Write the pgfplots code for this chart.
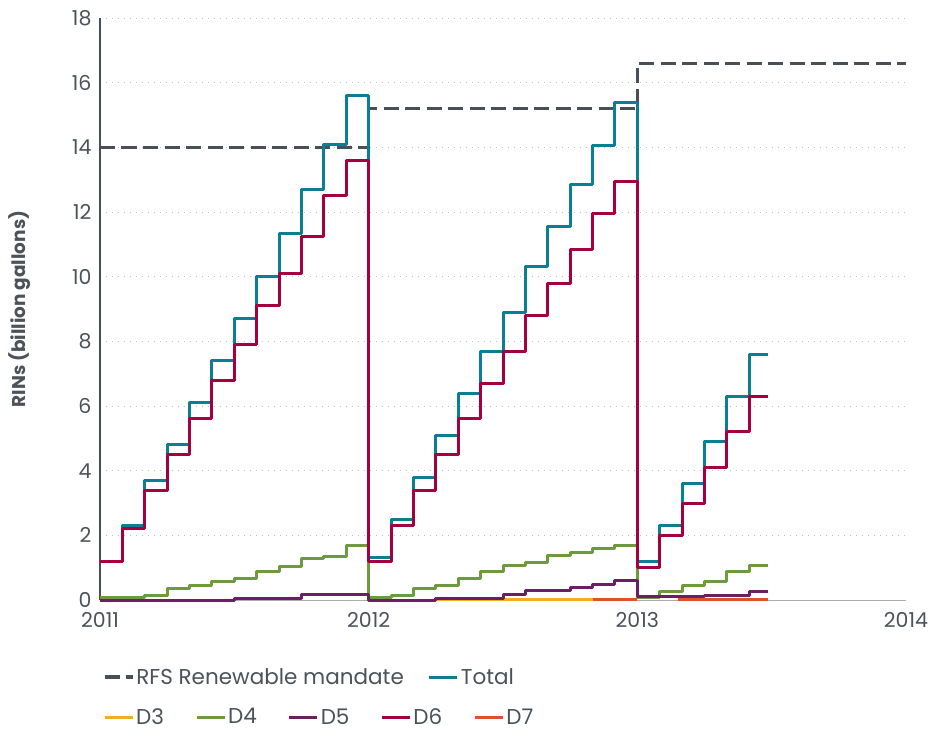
\documentclass[border=0pt]{standalone}
\usepackage{fontspec}
\setmainfont{Poppins}
\usepackage{pgfplots}
\pgfplotsset{compat=1.18}

\definecolor{rfs}{HTML}{474F58}
\definecolor{total}{HTML}{0B7E93}
\definecolor{dthree}{HTML}{F2AE1C}
\definecolor{dfour}{HTML}{6C9A3C}
\definecolor{dfive}{HTML}{6A1F63}
\definecolor{dsix}{HTML}{A4003F}
\definecolor{dseven}{HTML}{E0502A}
\definecolor{txt}{HTML}{4B525A}

\pgfplotsset{
  rinbase/.style={
    scale only axis, width=806pt, height=582pt,
    xmin=0, xmax=36, ymin=0, ymax=18,
    at={(0,0)}, anchor=south west,
  },
  leg/.style={
    legend cell align=left,
    legend style={draw=none, fill=none, text=txt,
      font=\fontsize{21.5}{23}\selectfont,
      at={(axis description cs:0,0)}, anchor=west,
      legend columns=-1},
    legend image code/.code={\draw[##1] (0pt,0pt) -- (28pt,0pt);},
  },
  ln/.style={const plot, line width=3pt, line join=round},
}

\begin{document}
\begin{tikzpicture}
\begin{axis}[rinbase, leg,
  legend style={yshift=-77pt,
    /tikz/every even column/.append style={column sep=22pt}},
  clip=false,
  axis x line*=bottom, axis y line*=left,
  x axis line style={draw=gray!65, line width=1pt},
  y axis line style={draw=rfs, line width=1.3pt},
  major tick length=0pt,
  xtick={0,12,24,36}, xticklabels={2011,2012,2013,2014},
  ytick={0,2,...,18}, yticklabels={0,2,4,6,8,10,12,14,16,18},
  tick label style={font=\fontsize{20.5}{22}\selectfont, text=txt},
  yticklabel style={xshift=-5pt},
  xticklabel style={yshift=-9pt},
  ymajorgrids,
  grid style={draw=gray!50, line width=1pt, dash pattern=on 1.2pt off 4.8pt},
  ylabel={\bfseries RINs (billion gallons)},
  ylabel style={font=\fontsize{18.5}{20}\selectfont, text=txt,
    at={(axis description cs:-0.0993,0.5)}, anchor=center},
]
% RFS renewable mandate
\addplot[ln, color=rfs, line width=3.2pt, dash pattern=on 15pt off 6.5pt]
  coordinates {(0,14) (12,15.2) (24,16.6) (36,16.6)};
\addlegendentry{RFS Renewable mandate}

% Total
\addplot[ln, color=total] coordinates {
  (0,1.2) (1,2.3) (2,3.7) (3,4.8) (4,6.1) (5,7.4) (6,8.7) (7,10.0)
  (8,11.35) (9,12.7) (10,14.1) (11,15.6)
  (12,1.3) (13,2.5) (14,3.8) (15,5.1) (16,6.4) (17,7.7) (18,8.9) (19,10.3)
  (20,11.55) (21,12.85) (22,14.05) (23,15.4)
  (24,1.2) (25,2.3) (26,3.6) (27,4.9) (28,6.3) (29,7.6) (29.85,7.6)};
\addlegendentry{Total}

% D3
\addplot[ln, color=dthree, forget plot] coordinates {(15,0.02) (24,0.02)};

% D4
\addplot[ln, color=dfour, forget plot] coordinates {
  (0,0.08) (1,0.08) (2,0.15) (3,0.36) (4,0.46) (5,0.57) (6,0.67) (7,0.88)
  (8,1.05) (9,1.27) (10,1.36) (11,1.68)
  (12,0.08) (13,0.15) (14,0.36) (15,0.46) (16,0.67) (17,0.88) (18,1.07)
  (19,1.17) (20,1.38) (21,1.47) (22,1.58) (23,1.68)
  (24,0.08) (25,0.26) (26,0.46) (27,0.57) (28,0.88) (29,1.06) (29.85,1.06)};

% D5
\addplot[ln, color=dfive, forget plot] coordinates {
  (0,0) (1,0) (2,0) (3,0) (4,0) (5,0) (6,0.06) (7,0.06) (8,0.06)
  (9,0.18) (10,0.18) (11,0.18)
  (12,0) (13,0) (14,0) (15,0.06) (16,0.06) (17,0.06) (18,0.18) (19,0.28)
  (20,0.28) (21,0.38) (22,0.48) (23,0.59)
  (24,0.1) (25,0.1) (26,0.1) (27,0.15) (28,0.15) (29,0.26) (29.85,0.26)};

% D6
\addplot[ln, color=dsix, forget plot] coordinates {
  (0,1.2) (1,2.2) (2,3.4) (3,4.5) (4,5.6) (5,6.8) (6,7.9) (7,9.1)
  (8,10.1) (9,11.25) (10,12.5) (11,13.6)
  (12,1.2) (13,2.3) (14,3.4) (15,4.5) (16,5.6) (17,6.7) (18,7.7) (19,8.8)
  (20,9.8) (21,10.85) (22,11.95) (23,12.95)
  (24,1.0) (25,2.0) (26,3.0) (27,4.1) (28,5.2) (29,6.3) (29.85,6.3)};

% D7
\addplot[ln, color=dseven, forget plot] coordinates {(22,0.02) (24,0.02)};
\addplot[ln, color=dseven, forget plot] coordinates {(25.8,0.02) (29.85,0.02)};
\end{axis}

% second legend row
\begin{axis}[rinbase, leg, hide axis,
  legend style={yshift=-117pt,
    /tikz/every even column/.append style={column sep=29pt}}]
\addlegendimage{color=dthree, line width=3pt}
\addlegendimage{color=dfour, line width=3pt}
\addlegendimage{color=dfive, line width=3pt}
\addlegendimage{color=dsix, line width=3pt}
\addlegendimage{color=dseven, line width=3pt}
\legend{D3,D4,D5,D6,D7}
\end{axis}

\pgfresetboundingbox
\path (-100pt,-132pt) rectangle (834pt,600pt);
\end{tikzpicture}
\end{document}
